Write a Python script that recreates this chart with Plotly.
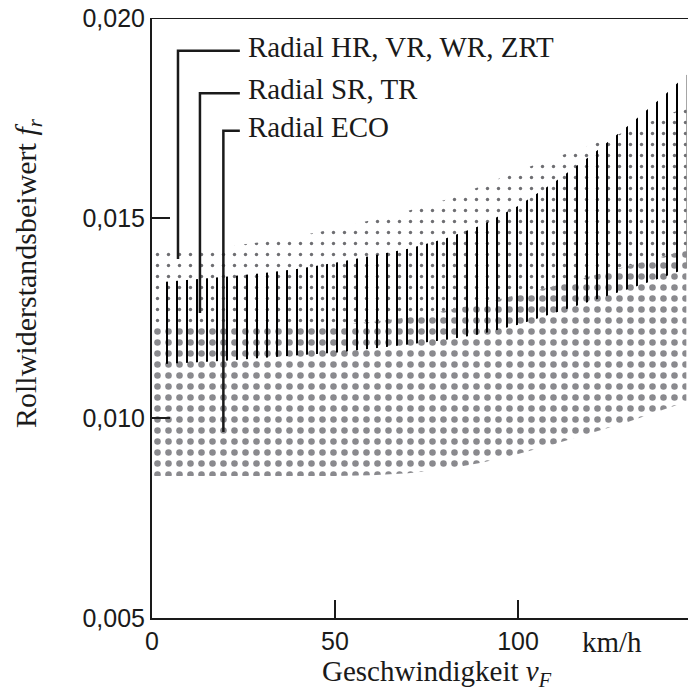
import plotly.graph_objects as go

# ---- data ----
speeds = [0, 10, 20, 30, 40, 50, 60, 70, 80, 90, 100, 110, 120, 130, 140, 146]

# Radial ECO (large dots)
eco_low = [0.00855, 0.00855, 0.00855, 0.00855, 0.00855, 0.00855, 0.00857, 0.00862,
           0.00872, 0.00888, 0.00910, 0.00935, 0.00962, 0.00990, 0.01022, 0.01040]
eco_high = [0.01228, 0.01228, 0.01228, 0.01229, 0.01230, 0.01233, 0.01240, 0.01252,
            0.01268, 0.01287, 0.01308, 0.01330, 0.01355, 0.01380, 0.01405, 0.01420]

# Radial HR, VR, WR, ZRT (small dots), lower edge = top of ECO band
hr_high = [0.01420, 0.01420, 0.01428, 0.01440, 0.01455, 0.01473, 0.01495, 0.01518,
           0.01545, 0.01580, 0.01618, 0.01650, 0.01683, 0.01718, 0.01755, 0.01777]

# Radial SR, TR (vertical hatch)
sr_speeds = [3, 10, 20, 30, 40, 50, 60, 70, 80, 90, 100, 110, 120, 130, 140, 146]
sr_low = [0.01135, 0.01138, 0.01143, 0.01150, 0.01157, 0.01163, 0.01173, 0.01184,
          0.01195, 0.01210, 0.01233, 0.01263, 0.01292, 0.01322, 0.01353, 0.01374]
sr_high = [0.01340, 0.01345, 0.01353, 0.01362, 0.01373, 0.01388, 0.01405, 0.01423,
           0.01448, 0.01482, 0.01530, 0.01590, 0.01657, 0.01730, 0.01807, 0.01858]

# labels with leader lines
label_texts = ["Radial HR, VR, WR, ZRT", "Radial SR, TR", "Radial ECO"]
label_leg_x = [7.1, 13.1, 19.5]              # x of vertical leader leg (km/h)
label_tip_y = [0.013975, 0.012625, 0.00965]  # where the leader ends inside the band
label_row_y = [0.01918, 0.01812, 0.01718]    # height of the label row
label_text_x = 24.0

x_ticks = [0, 50, 100]
x_ticktext = ["0", "50", "100"]
y_ticks = [0.005, 0.010, 0.015, 0.020]
y_ticktext = ["0,005", "0,010", "0,015", "0,020"]

INK = "#1a1a1a"
SERIF = "Liberation Serif"
SANS = "Liberation Sans"

fig = go.Figure()


def band(xs, lo, hi, pattern):
    fig.add_trace(go.Scatter(
        x=list(xs) + list(xs)[::-1],
        y=list(hi) + list(lo)[::-1],
        mode="lines", fill="toself",
        line=dict(width=0, color="rgba(0,0,0,0)"),
        fillcolor="rgba(0,0,0,0)",
        fillpattern=pattern,
        hoverinfo="skip", showlegend=False,
    ))


# small dots (HR/VR/WR/ZRT)
band(speeds, eco_high, hr_high,
     dict(shape=".", size=11, solidity=0.075, fgcolor="#6e6e72", fgopacity=1,
          bgcolor="rgba(0,0,0,0)"))
# large dots (ECO)
band(speeds, eco_low, eco_high,
     dict(shape=".", size=11, solidity=0.28, fgcolor="#8a8a8e", fgopacity=1,
          bgcolor="white"))
# vertical hatch (SR, TR)
band(sr_speeds, sr_low, sr_high,
     dict(shape="|", size=10, solidity=0.2, fgcolor="#000000", fgopacity=1,
          bgcolor="rgba(0,0,0,0)"))

# leader lines
for lx, ty, ry in zip(label_leg_x, label_tip_y, label_row_y):
    fig.add_trace(go.Scatter(
        x=[lx, lx, label_text_x], y=[ty, ry, ry],
        mode="lines", line=dict(color=INK, width=2.5),
        hoverinfo="skip", showlegend=False,
    ))

for txt, ry in zip(label_texts, label_row_y):
    fig.add_annotation(x=label_text_x, y=ry, xref="x", yref="y",
                       text=txt, showarrow=False, xanchor="left",
                       yanchor="middle", xshift=6, yshift=4,
                       font=dict(family=SERIF, size=29, color=INK))

# top frame line
fig.add_shape(type="line", xref="paper", yref="y", x0=0, x1=1,
              y0=y_ticks[-1], y1=y_ticks[-1], line=dict(color=INK, width=2))

# axis titles / unit
fig.add_annotation(x=117.0, y=0, xref="x", yref="paper", text="km/h",
                   showarrow=False, xanchor="left", yanchor="middle", yshift=-24,
                   font=dict(family=SERIF, size=29, color=INK))
fig.add_annotation(x=0.532, y=0, xref="paper", yref="paper",
                   text="Geschwindigkeit <i>v</i><sub><i>F</i></sub>",
                   showarrow=False, xanchor="center", yanchor="middle", yshift=-55,
                   font=dict(family=SERIF, size=29, color=INK))
fig.add_annotation(x=0, y=0.575, xref="paper", yref="paper",
                   text="Rollwiderstandsbeiwert <i>f</i><sub><i>r</i></sub>",
                   showarrow=False, textangle=-90, xanchor="center", yanchor="middle",
                   xshift=-124,
                   font=dict(family=SERIF, size=30, color=INK))

fig.update_layout(
    width=688, height=691,
    margin=dict(l=152, r=0, t=18, b=73),
    paper_bgcolor="white", plot_bgcolor="white",
    xaxis=dict(range=[0, 146.45], tickvals=x_ticks, ticktext=x_ticktext,
               ticks="inside", ticklen=18, tickwidth=2.5, tickcolor=INK,
               showline=True, linecolor=INK, linewidth=2, showgrid=False,
               zeroline=False, ticklabeloverflow="allow",
               tickfont=dict(family=SANS, size=25, color=INK)),
    yaxis=dict(range=[0.005, 0.020], tickvals=y_ticks, ticktext=y_ticktext,
               ticks="inside", ticklen=18, tickwidth=2.5, tickcolor=INK,
               showline=True, linecolor=INK, linewidth=2, showgrid=False,
               zeroline=False, ticklabeloverflow="allow",
               tickfont=dict(family=SANS, size=25, color=INK)),
)

# remove the page's default 8px body margin so the figure fills the window exactly
fig.write_html("out.html",
               config={"displayModeBar": False, "staticPlot": True},
               post_script="document.body.style.margin='0px';"
                           "document.body.style.overflow='hidden';")
